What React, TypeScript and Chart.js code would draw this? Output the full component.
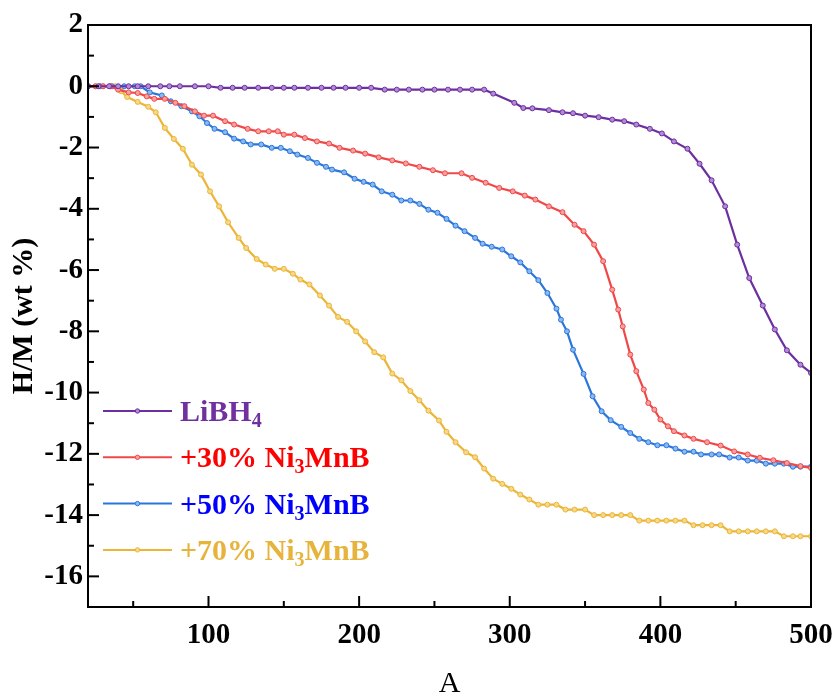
import React, { useEffect, useRef } from "react";
import { Chart, registerables } from "chart.js";

Chart.register(...registerables);

// ---- axis ticks ----
const xTicks = [100, 200, 300, 400, 500];
const xMinorTicks = [50, 150, 250, 350, 450];
const yTicks = [2, 0, -2, -4, -6, -8, -10, -12, -14, -16];
const yMinorTicks = [1, -1, -3, -5, -7, -9, -11, -13, -15];

// ---- series: LiBH4 ----
const libh4X = [20, 27, 34, 40, 47, 53, 60, 68, 74, 81, 91, 100, 108, 116, 124, 133, 142, 150, 157, 166, 175, 183, 191, 200, 208, 217, 225, 233, 242, 250, 259, 267, 275, 283, 289, 303, 309, 315, 326, 335, 342, 350, 359, 368, 376, 384, 393, 401, 409, 418, 426, 434, 443, 451, 459, 468, 476, 484, 493, 500];
const libh4Y = [0, 0, 0, 0, 0, 0, 0, 0, 0, 0, 0, 0, -0.05, -0.05, -0.05, -0.05, -0.05, -0.05, -0.05, -0.05, -0.05, -0.05, -0.05, -0.05, -0.05, -0.11, -0.11, -0.11, -0.11, -0.11, -0.11, -0.11, -0.11, -0.11, -0.24, -0.54, -0.71, -0.72, -0.78, -0.85, -0.88, -0.96, -1.01, -1.09, -1.14, -1.25, -1.39, -1.54, -1.8, -2.04, -2.53, -3.07, -3.92, -5.17, -6.26, -7.16, -7.94, -8.62, -9.09, -9.36];

// ---- series: +30% Ni3MnB ----
const ni30X = [20, 25, 30, 35, 40, 47, 53, 59, 64, 71, 78, 84, 91, 97, 103, 111, 117, 126, 133, 140, 146, 150, 157, 164, 172, 180, 187, 196, 204, 213, 222, 231, 240, 249, 257, 268, 275, 284, 293, 302, 310, 317, 326, 335, 343, 349, 356, 362, 368, 372, 375, 380, 384, 389, 392, 396, 400, 405, 409, 416, 422, 431, 440, 449, 458, 466, 475, 484, 493, 500];
const ni30Y = [0, 0, 0, 0, -0.11, -0.2, -0.22, -0.33, -0.41, -0.41, -0.54, -0.65, -0.82, -0.96, -0.96, -1.14, -1.25, -1.39, -1.47, -1.47, -1.47, -1.58, -1.58, -1.69, -1.8, -1.87, -2.01, -2.1, -2.2, -2.32, -2.42, -2.52, -2.63, -2.74, -2.84, -2.84, -2.99, -3.15, -3.32, -3.43, -3.57, -3.7, -3.92, -4.11, -4.52, -4.73, -5.17, -5.71, -6.64, -7.29, -7.84, -8.76, -9.3, -9.9, -10.34, -10.56, -10.88, -11.1, -11.26, -11.4, -11.51, -11.62, -11.73, -11.92, -12.02, -12.13, -12.21, -12.3, -12.4, -12.46];

// ---- series: +50% Ni3MnB ----
const ni50X = [20, 28, 36, 44, 51, 55, 61, 69, 75, 82, 89, 94, 99, 104, 111, 117, 123, 128, 135, 142, 148, 154, 159, 166, 172, 178, 182, 190, 197, 203, 209, 215, 222, 228, 234, 240, 246, 252, 258, 264, 270, 277, 282, 288, 295, 301, 307, 313, 319, 325, 331, 334, 338, 342, 349, 355, 361, 367, 374, 380, 386, 392, 398, 404, 410, 416, 422, 427, 434, 439, 446, 452, 458, 464, 470, 476, 482, 488, 493, 500];
const ni50Y = [0, 0, 0, 0, 0, 0, -0.2, -0.3, -0.49, -0.65, -0.82, -0.98, -1.2, -1.39, -1.5, -1.71, -1.8, -1.9, -1.9, -2.01, -2.01, -2.12, -2.23, -2.34, -2.5, -2.63, -2.72, -2.81, -3.02, -3.12, -3.21, -3.43, -3.54, -3.73, -3.73, -3.84, -4.03, -4.13, -4.33, -4.55, -4.73, -4.95, -5.14, -5.24, -5.33, -5.55, -5.75, -6.04, -6.33, -6.75, -7.26, -7.62, -8.0, -8.6, -9.39, -10.12, -10.61, -10.9, -11.12, -11.32, -11.51, -11.62, -11.72, -11.72, -11.83, -11.93, -11.93, -12.02, -12.02, -12.02, -12.12, -12.12, -12.22, -12.22, -12.32, -12.32, -12.32, -12.42, -12.42, -12.42];

// ---- series: +70% Ni3MnB ----
const ni70X = [20, 25, 30, 35, 38, 42, 46, 53, 60, 65, 71, 77, 83, 89, 95, 101, 107, 113, 120, 125, 132, 138, 144, 150, 156, 161, 167, 174, 180, 186, 192, 198, 204, 210, 216, 222, 228, 234, 240, 246, 253, 258, 264, 271, 277, 283, 289, 295, 301, 307, 313, 319, 325, 331, 337, 343, 350, 356, 362, 368, 374, 380, 386, 392, 398, 404, 410, 416, 422, 428, 434, 440, 446, 452, 458, 464, 470, 476, 482, 488, 493, 500];
const ni70Y = [0, 0, 0, 0, 0, -0.16, -0.35, -0.51, -0.67, -0.85, -1.36, -1.72, -2.04, -2.56, -2.88, -3.43, -3.92, -4.44, -4.95, -5.28, -5.64, -5.82, -5.96, -5.96, -6.12, -6.31, -6.47, -6.83, -7.16, -7.53, -7.69, -8.0, -8.33, -8.68, -8.85, -9.38, -9.6, -9.95, -10.25, -10.59, -10.91, -11.28, -11.62, -11.95, -12.11, -12.48, -12.81, -12.98, -13.14, -13.33, -13.49, -13.66, -13.66, -13.66, -13.82, -13.82, -13.82, -14.0, -14.0, -14.0, -14.0, -14.0, -14.18, -14.18, -14.18, -14.18, -14.18, -14.18, -14.33, -14.33, -14.33, -14.33, -14.53, -14.53, -14.53, -14.53, -14.53, -14.53, -14.69, -14.69, -14.69, -14.69];

// ---- labels (legend parts: [text, isSubscript]) ----
const seriesNames = ["LiBH4", "+30% Ni3MnB", "+50% Ni3MnB", "+70% Ni3MnB"];
const legendParts: [string, boolean][][] = [
  [["LiBH", false], ["4", true]],
  [["+30% Ni", false], ["3", true], ["MnB", false]],
  [["+50% Ni", false], ["3", true], ["MnB", false]],
  [["+70% Ni", false], ["3", true], ["MnB", false]],
];
const lineColors = ["#6b2fa0", "#f04848", "#2b76dc", "#ecb535"];
const pointFills = ["#b48ad6", "#f8a0a0", "#8ab8f0", "#f6d88a"];
const legendTextColors = ["#7030a0", "#ff0000", "#0000ff", "#e6b43c"];

const FONT = "'Liberation Serif', 'Times New Roman', serif";

const frameAndTicks = {
  id: "frameAndTicks",
  afterDatasetsDraw(chart: any) {
    const { ctx, chartArea, scales } = chart;
    const { left, right, top, bottom } = chartArea;
    const xs = scales.x;
    const ys = scales.y;
    ctx.save();
    ctx.strokeStyle = "#000";
    ctx.lineWidth = 2;
    ctx.lineCap = "butt";
    ctx.strokeRect(left, top, right - left, bottom - top);
    const tick = (x1: number, y1: number, x2: number, y2: number) => {
      ctx.beginPath();
      ctx.moveTo(x1, y1);
      ctx.lineTo(x2, y2);
      ctx.stroke();
    };
    xTicks.forEach((v) => {
      const p = xs.getPixelForValue(v);
      tick(p, bottom, p, bottom - 11);
    });
    xMinorTicks.forEach((v) => {
      const p = xs.getPixelForValue(v);
      tick(p, bottom, p, bottom - 6);
    });
    yTicks.forEach((v) => {
      const p = ys.getPixelForValue(v);
      tick(left, p, left + 11, p);
    });
    yMinorTicks.forEach((v) => {
      const p = ys.getPixelForValue(v);
      tick(left, p, left + 6, p);
    });
    ctx.restore();
  },
};

const customLegend = {
  id: "customLegend",
  afterDraw(chart: any) {
    const { ctx } = chart;
    ctx.save();
    const x0 = 103;
    const x1 = 172;
    const textX = 180;
    const rowStart = 411;
    const rowStep = 46.3;
    legendParts.forEach((parts, i) => {
      const y = rowStart + i * rowStep;
      ctx.strokeStyle = lineColors[i];
      ctx.lineWidth = 2;
      ctx.beginPath();
      ctx.moveTo(x0, y);
      ctx.lineTo(x1, y);
      ctx.stroke();
      ctx.beginPath();
      ctx.arc((x0 + x1) / 2, y, 2.2, 0, Math.PI * 2);
      ctx.fillStyle = pointFills[i];
      ctx.fill();
      ctx.lineWidth = 1;
      ctx.stroke();

      ctx.fillStyle = legendTextColors[i];
      ctx.textBaseline = "alphabetic";
      ctx.textAlign = "left";
      let cx = textX;
      const baseline = y + 10;
      parts.forEach(([t, sub]) => {
        ctx.font = sub ? `bold 20px ${FONT}` : `bold 30px ${FONT}`;
        ctx.fillText(t, cx, sub ? baseline + 6 : baseline);
        cx += ctx.measureText(t).width;
      });
    });
    ctx.restore();
  },
};

function toPoints(xs: number[], ys: number[]) {
  return xs.map((x, i) => ({ x, y: ys[i] }));
}

export default function App() {
  const ref = useRef<HTMLCanvasElement | null>(null);
  useEffect(() => {
    if (!ref.current) return;
    const xsAll = [libh4X, ni30X, ni50X, ni70X];
    const ysAll = [libh4Y, ni30Y, ni50Y, ni70Y];
    const datasets = seriesNames.map((name, i) => ({
      label: name,
      data: toPoints(xsAll[i], ysAll[i]),
      borderColor: lineColors[i],
      backgroundColor: pointFills[i],
      pointBackgroundColor: pointFills[i],
      pointBorderColor: lineColors[i],
      pointBorderWidth: 1,
      pointRadius: 2.5,
      borderWidth: 2.2,
      tension: 0,
      fill: false,
    }));
    const chart = new Chart(ref.current, {
      type: "line",
      data: { datasets },
      options: {
        animation: false,
        responsive: false,
        devicePixelRatio: 1,
        layout: { padding: { top: 25, right: 27, left: 0, bottom: 0 } },
        plugins: {
          legend: { display: false },
          tooltip: { enabled: false },
        },
        scales: {
          x: {
            type: "linear",
            min: 20,
            max: 500,
            grid: { display: false, drawTicks: false },
            border: { display: false },
            afterBuildTicks: (s: any) => {
              s.ticks = xTicks.map((v) => ({ value: v }));
            },
            afterFit: (s: any) => {
              s.height = 92;
              s.paddingLeft = 0;
              s.paddingRight = 0;
            },
            ticks: {
              autoSkip: false,
              maxRotation: 0,
              padding: 11,
              color: "#000",
              font: { family: FONT, size: 29, weight: "bold" },
            },
            title: {
              display: true,
              text: "A",
              color: "#000",
              padding: { top: 0, bottom: 0 },
              font: { family: FONT, size: 30, weight: "normal", lineHeight: 1 },
            },
          },
          y: {
            type: "linear",
            min: -17,
            max: 2,
            grid: { display: false, drawTicks: false },
            border: { display: false },
            afterBuildTicks: (s: any) => {
              s.ticks = yTicks.map((v) => ({ value: v }));
            },
            afterFit: (s: any) => {
              s.width = 88;
              s.paddingTop = 0;
              s.paddingBottom = 0;
            },
            ticks: {
              autoSkip: false,
              padding: 5,
              color: "#000",
              font: { family: FONT, size: 29, weight: "bold" },
            },
            title: {
              display: true,
              text: "H/M (wt %)",
              color: "#000",
              padding: { top: 6, bottom: 0 },
              font: { family: FONT, size: 30, weight: "bold" },
            },
          },
        },
      },
      plugins: [frameAndTicks, customLegend],
    } as any);
    return () => chart.destroy();
  }, []);
  return (
    <div style={{ position: "fixed", left: 0, top: 0, width: 838, height: 699, background: "#fff" }}>
      <canvas ref={ref} width={838} height={699} />
    </div>
  );
}
